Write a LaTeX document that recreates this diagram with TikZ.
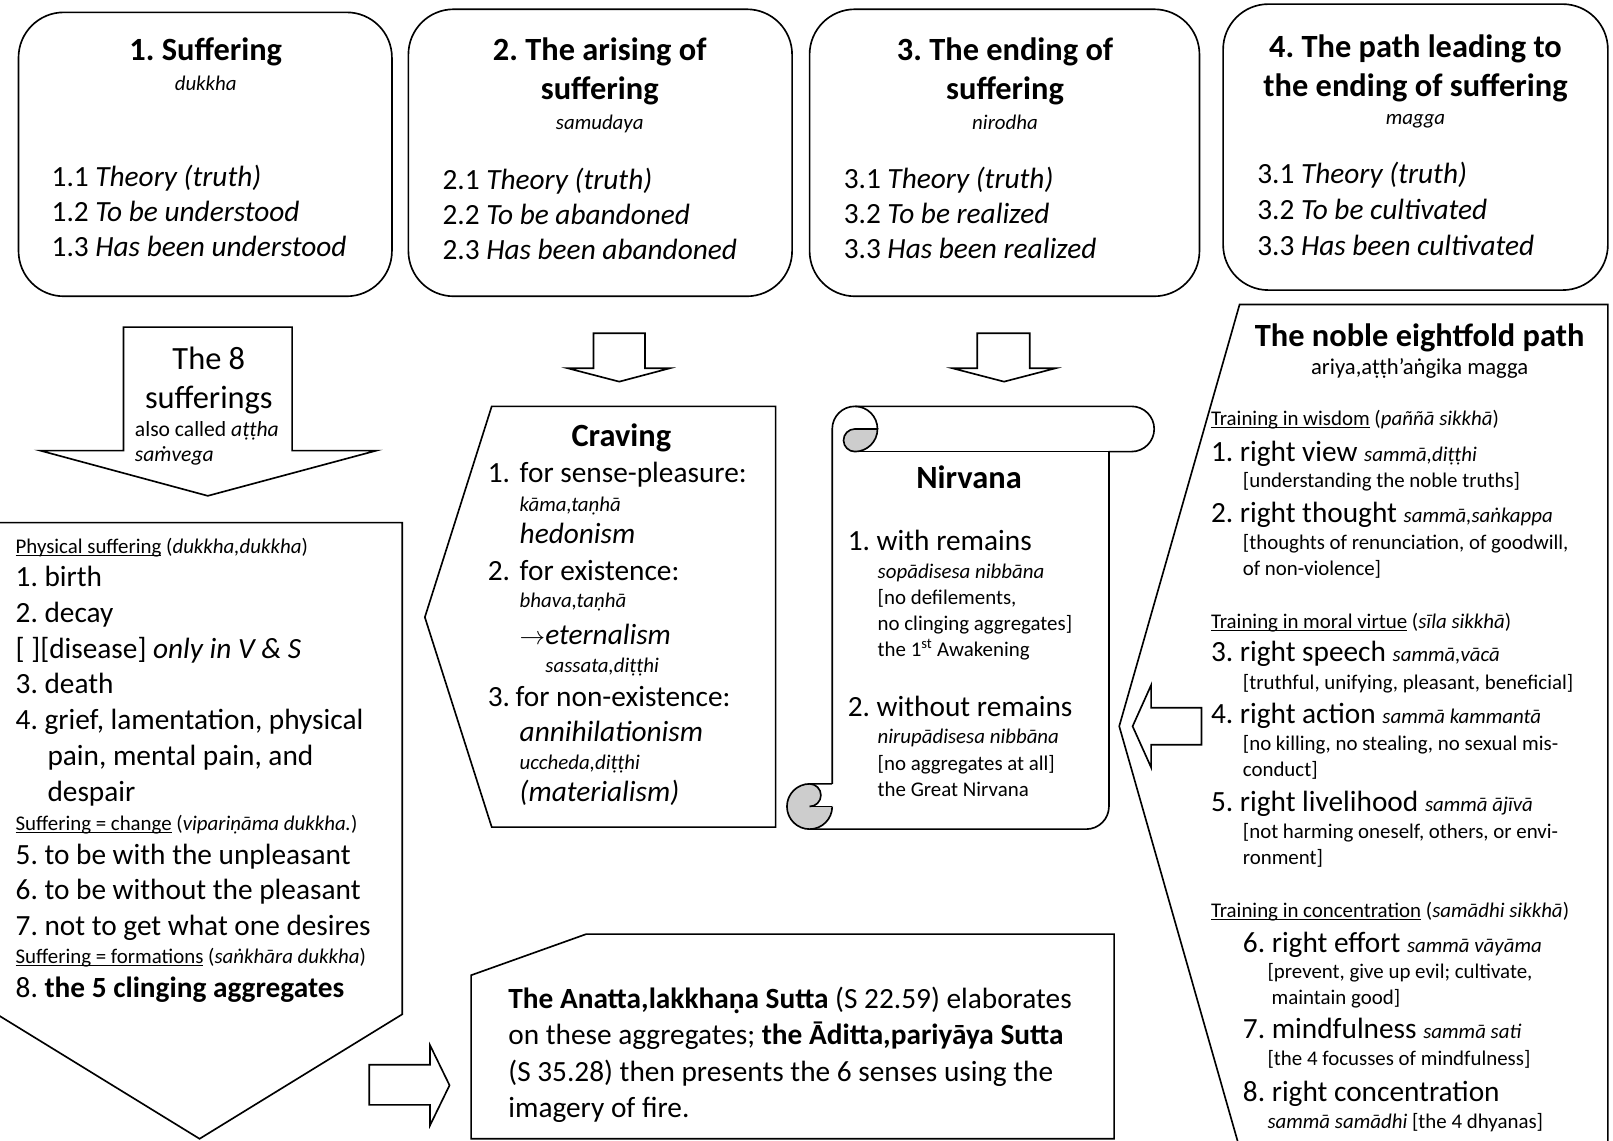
\documentclass[tikz,border=0pt]{standalone}
\usepackage{fontspec}
\setmainfont{Carlito}
\usepackage{tikz}
\usetikzlibrary{calc}
\frenchspacing
\definecolor{inkc}{HTML}{000000}
\definecolor{curlc}{HTML}{CDCDCD}
\newcommand\undl[1]{\setbox0\hbox{#1}\rlap{\rule[-2.4pt]{\wd0}{1.1pt}}\box0\relax}
\newcommand\pali[1]{{\fontsize{20.3}{25}\selectfont\itshape #1}}
\tikzset{
  shp/.style={draw=inkc,line width=1.6pt},
  rbox/.style={shp,rounded corners=44pt},
  tx/.style={anchor=base west,inner sep=0pt,font=\fontsize{28.5}{34}\selectfont},
  sm/.style={anchor=base west,inner sep=0pt,font=\fontsize{20.3}{25}\selectfont},
  hd/.style={anchor=base,inner sep=0pt,font=\fontsize{31.5}{38}\selectfont\bfseries}
}
\begin{document}
\begin{tikzpicture}[x=1pt,y=-1pt]
\useasboundingbox (0,0) rectangle (1568,1109);
% the four truths
\draw[rbox] (18,12) rectangle (381,288);
\draw[rbox] (397,9) rectangle (770,288);
\draw[rbox] (787,9) rectangle (1166,288);
\draw[rbox] (1189,4) rectangle (1563,282);
\node[hd] (h1) at (200,59) {1. Suffering};
\node[sm,anchor=base] (p1) at (200,88) {\itshape dukkha};
\foreach \k/\yy/\lab in {1/181/Theory (truth),2/215/To be understood,3/249/Has been understood}
  \node[tx] (a\k) at (50,\yy) {1.\k\ \textit{\lab}};
\node[hd] (h2) at (583,59) {2. The arising of};
\node[hd] (h2b) at (583,97) {suffering};
\node[sm,anchor=base] (p2) at (583,126) {\itshape samudaya};
\foreach \k/\yy/\lab in {1/184/Theory (truth),2/218/To be abandoned,3/252/Has been abandoned}
  \node[tx] (b\k) at (430,\yy) {2.\k\ \textit{\lab}};
\node[hd] (h3) at (977,59) {3. The ending of};
\node[hd] (h3b) at (977,97) {suffering};
\node[sm,anchor=base] (p3) at (977,126) {\itshape nirodha};
\foreach \k/\yy/\lab in {1/183/Theory (truth),2/217/To be realized,3/251/Has been realized}
  \node[tx] (c\k) at (820,\yy) {3.\k\ \textit{\lab}};
\node[hd] (h4) at (1376,56) {4. The path leading to};
\node[hd] (h4b) at (1376,94) {the ending of suffering};
\node[sm,anchor=base] (p4) at (1376,121) {\itshape magga};
\foreach \k/\yy/\lab in {1/178/Theory (truth),2/213/To be cultivated,3/248/Has been cultivated}
  \node[tx] (d\k) at (1222,\yy) {3.\k\ \textit{\lab}};
% block arrows
\draw[shp] (120,318) -- (284,318) -- (284,438) -- (366,438) -- (202,482) -- (39,438) -- (120,438) -- cycle;
\draw[shp] (577,324) -- (627,324) -- (627,358) -- (651,358) -- (602,371) -- (552,358) -- (577,358) -- cycle;
\draw[shp] (950,324) -- (1001,324) -- (1001,358) -- (1026,358) -- (976,371) -- (926,358) -- (950,358) -- cycle;
\draw[shp] (359,1035) -- (418,1035) -- (418,1016) -- (437,1055) -- (418,1094) -- (418,1074) -- (359,1074) -- cycle;
\draw[shp] (1168,688) -- (1119,688) -- (1119,666) -- (1101,706) -- (1119,746) -- (1119,724) -- (1168,724) -- cycle;
\node[font=\fontsize{31.5}{38}\selectfont,anchor=base,inner sep=0pt] (e1) at (203,359) {The 8};
\node[font=\fontsize{31.5}{38}\selectfont,anchor=base,inner sep=0pt] (e2) at (203,397) {sufferings};
\node[sm,font=\fontsize{21}{25}\selectfont] (e3) at (131,424) {also called \textit{aṭṭha}};
\node[sm,font=\fontsize{21}{25}\selectfont] (e4) at (131,449) {\textit{saṁvega}};
% the eight sufferings
\draw[shp] (-3,508) -- (391,508) -- (391,986) -- (194,1107) -- (-3,986) -- cycle;
\node[sm] (s0) at (15,538) {\undl{Physical suffering} (\textit{dukkha,dukkha})};
\node[tx] (s1) at (15,570.5) {1. birth};
\node[tx] (s2) at (15,605.5) {2. decay};
\node[tx] (s2b) at (15,640.5) {[ ][disease] \textit{only in V \& S}};
\node[tx] (s3) at (15,674.5) {3. death};
\node[tx] (s4) at (15,709.5) {4. grief, lamentation, physical};
\node[tx] (s4b) at (46,744.5) {pain, mental pain, and};
\node[tx] (s4c) at (46,779.5) {despair};
\node[sm] (s5h) at (15,807) {\undl{Suffering = change} (\textit{vipariṇāma dukkha.})};
\node[tx] (s5) at (15,840.5) {5. to be with the unpleasant};
\node[tx] (s6) at (15,874.5) {6. to be without the pleasant};
\node[tx] (s7) at (15,909.5) {7. not to get what one desires};
\node[sm] (s8h) at (15,937) {\undl{Suffering = formations} (\textit{saṅkhāra dukkha})};
\node[tx] (s8) at (15,969.5) {8. \textbf{the 5 clinging aggregates}};
% craving
\draw[shp] (478,395) -- (754,395) -- (754,804) -- (478,804) -- (413,600) -- cycle;
\node[hd] (cr) at (604,434) {Craving};
\node[tx] (cr1) at (474,469.5) {1.};
\node[tx] (cr1t) at (505,469.5) {for sense-pleasure:};
\node[sm] (cr1p) at (505,497) {\itshape kāma,taṇhā};
\node[tx] (cr1v) at (505,528.5) {\itshape hedonism};
\node[tx] (cr2) at (474,564.5) {2.};
\node[tx] (cr2t) at (505,564.5) {for existence:};
\node[sm] (cr2p) at (505,591) {\itshape bhava,taṇhā};
\node[tx] (cr2v) at (505,626.5) {$\rightarrow$\textit{eternalism}};
\node[sm] (cr2q) at (530,654) {\itshape sassata,diṭṭhi};
\node[tx] (cr3) at (474,686.5) {3.};
\node[tx] (cr3t) at (501,686.5) {for non-existence:};
\node[tx] (cr3v) at (505,720.5) {\itshape annihilationism};
\node[sm] (cr3p) at (505,748) {\itshape uccheda,diṭṭhi};
\node[tx] (cr3w) at (505,779.5) {\itshape (materialism)};
% nirvana scroll
\fill[curlc] (787,784) circle[radius=22];
\fill[white] (787,762) rectangle (809,784);
\filldraw[curlc,draw=inkc,line width=1.6pt] (787,762) arc[start angle=270,end angle=450,radius=11];
\draw[shp] (809,784) arc[start angle=0,end angle=270,radius=22] -- (809,762);
\draw[shp] (787,784) -- (809,784);
\filldraw[curlc,draw=inkc,line width=1.6pt] (853,417) -- (831,417) arc[start angle=270,end angle=90,radius=11]
  arc[start angle=90,end angle=0,radius=22] -- cycle;
\draw[shp] (831,395) arc[start angle=270,end angle=360,radius=22];
\draw[shp] (831,439) -- (1100,439);
\draw[shp,line join=round] (787,806) -- (1056,806) arc[start angle=90,end angle=0,radius=22] -- (1078,439)
  -- (1100,439) arc[start angle=90,end angle=-90,radius=22] -- (831,395)
  arc[start angle=270,end angle=180,radius=22] -- (809,762);
\node[hd] (nv) at (942,474.5) {Nirvana};
\node[tx] (nv1) at (824,535.5) {1. with remains};
\node[sm] (nv1p) at (853,562) {\itshape sopādisesa nibbāna};
\node[sm] (nv1a) at (853,588) {[no defilements,};
\node[sm] (nv1b) at (853,613) {no clinging aggregates]};
\node[sm] (nv1c) at (853,638) {the 1\textsuperscript{st} Awakening};
\node[tx] (nv2) at (824,696.5) {2. without remains};
\node[sm] (nv2p) at (853,723) {\itshape nirupādisesa nibbāna};
\node[sm] (nv2a) at (853,749) {[no aggregates at all]};
\node[sm] (nv2b) at (853,774) {the Great Nirvana};
% the path
\draw[shp] (1205,296) -- (1563,296) -- (1563,1116) -- (1205,1116) -- (1088,706) -- cycle;
\node[hd] (pt) at (1380,336.5) {The noble eightfold path};
\node[sm,anchor=base,font=\fontsize{22}{26}\selectfont] (ptp) at (1380,364) {ariya,aṭṭh’aṅgika magga};
\node[sm] (w0) at (1177,414) {\undl{Training in wisdom} (\textit{paññā sikkhā})};
\node[tx] (w1) at (1177,448.5) {1. right view \pali{sammā,diṭṭhi}};
\node[sm] (w1a) at (1208,474) {[understanding the noble truths]};
\node[tx] (w2) at (1177,507.5) {2. right thought \pali{sammā,saṅkappa}};
\node[sm] (w2a) at (1208,534) {[thoughts of renunciation, of goodwill,};
\node[sm] (w2b) at (1208,559) {of non-violence]};
\node[sm] (m0) at (1177,611) {\undl{Training in moral virtue} (\textit{sīla sikkhā})};
\node[tx] (m3) at (1177,643.5) {3. right speech \pali{sammā,vācā}};
\node[sm] (m3a) at (1208,670) {[truthful, unifying, pleasant, beneficial]};
\node[tx] (m4) at (1177,703.5) {4. right action \pali{sammā kammantā}};
\node[sm] (m4a) at (1208,730) {[no killing, no stealing, no sexual mis-};
\node[sm] (m4b) at (1208,755) {conduct]};
\node[tx] (m5) at (1177,788.5) {5. right livelihood \pali{sammā ājīvā}};
\node[sm] (m5a) at (1208,815) {[not harming oneself, others, or envi-};
\node[sm] (m5b) at (1208,840) {ronment]};
\node[sm] (q0) at (1177,892) {\undl{Training in concentration} (\textit{samādhi sikkhā})};
\node[tx] (q6) at (1208,925.5) {6. right effort \pali{sammā vāyāma}};
\node[sm] (q6a) at (1232,951) {[prevent, give up evil; cultivate,};
\node[sm] (q6b) at (1236,976) {maintain good]};
\node[tx] (q7) at (1208,1009.5) {7. mindfulness \pali{sammā sati}};
\node[sm] (q7a) at (1232,1036) {[the 4 focusses of mindfulness]};
\node[tx] (q8) at (1208,1070.5) {8. right concentration};
\node[sm] (q8a) at (1232,1097) {\textit{sammā samādhi} [the 4 dhyanas]};
% anatta
\draw[shp] (570,908) -- (1083,908) -- (1083,1107) -- (458,1107) -- (458,948) -- cycle;
\node[tx] (an1) at (494,980.5) {\textbf{The Anatta,lakkhaṇa Sutta} (S 22.59) elaborates};
\node[tx] (an2) at (494,1015.5) {on these aggregates; \textbf{the Āditta,pariyāya Sutta}};
\node[tx] (an3) at (494,1051.5) {(S 35.28) then presents the 6 senses using the};
\node[tx] (an4) at (494,1086.5) {imagery of fire.};
\end{tikzpicture}
\end{document}
